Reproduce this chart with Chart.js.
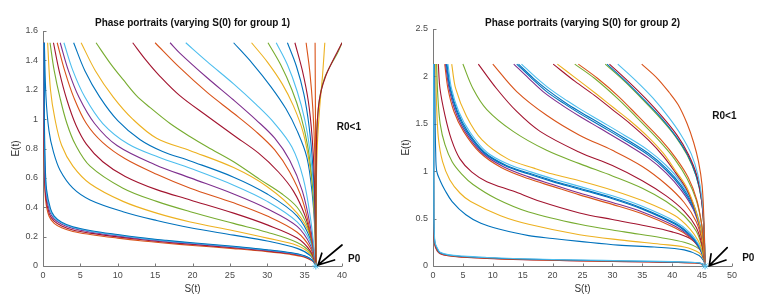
<!DOCTYPE html>
<html><head><meta charset="utf-8">
<script src="https://cdn.jsdelivr.net/npm/chart.js@4.4.0/dist/chart.umd.min.js"></script>
<style>
html,body{margin:0;padding:0;background:#fff;width:764px;height:300px;overflow:hidden}
canvas{position:absolute;top:0}
#c1{left:0}#c2{left:384px}
</style></head><body>
<canvas id="c1" width="384" height="300"></canvas>
<canvas id="c2" width="380" height="300"></canvas>
<script>
const COL = {b:'#0072BD', o:'#D95319', y:'#EDB120', p:'#7E2F8E', g:'#77AC30', c:'#4DBEEE', r:'#A2142F'};

// ---------- group 1 (left) ----------
const leftXTicks = [0,5,10,15,20,25,30,35,40];
const leftYTicks = [0,0.2,0.4,0.6,0.8,1,1.2,1.4,1.6];
const leftYLabels = ['0','0.2','0.4','0.6','0.8','1','1.2','1.4','1.6'];
const leftP0 = [36.5, 0];
const leftColors = ['o','r','p','c','b',
  'b','y','g','r','o','p','c','b','y','g','r','o','p','c','b','y','g','c','b','r','o','o','y','g','r'];
const leftCurves = [
 [[0.1,1.52],[0.12,1.0],[0.18,0.65],[0.35,0.45],[0.8,0.34],[1.5,0.29],[2.5,0.26],[4,0.235],[6.3,0.215],[10,0.19],[13,0.172],[16.5,0.155],[20,0.14],[25.5,0.118],[30,0.098],[33,0.08],[35,0.06],[36,0.035],[36.5,0.01]],
 [[0.1,1.52],[0.13,1.0],[0.2,0.66],[0.38,0.47],[0.85,0.355],[1.5,0.305],[2.5,0.272],[4,0.245],[6.3,0.224],[10,0.198],[13,0.18],[16.5,0.162],[20,0.147],[25.5,0.124],[30,0.103],[33,0.085],[35,0.064],[36,0.038],[36.5,0.01]],
 [[0.12,1.52],[0.15,1.0],[0.23,0.68],[0.42,0.49],[0.9,0.37],[1.5,0.32],[2.5,0.285],[4,0.256],[6.3,0.232],[10,0.205],[13,0.186],[16.5,0.167],[20,0.151],[25.5,0.128],[30,0.106],[33,0.088],[35,0.066],[36,0.04],[36.5,0.01]],
 [[0.14,1.52],[0.17,1.0],[0.26,0.7],[0.45,0.5],[0.95,0.38],[1.5,0.33],[2.5,0.292],[4,0.262],[6.3,0.237],[10,0.21],[13,0.19],[16.5,0.171],[20,0.155],[25.5,0.131],[30,0.109],[33,0.09],[35,0.068],[36,0.041],[36.5,0.01]],
 [[0.16,1.52],[0.19,1.0],[0.28,0.72],[0.48,0.52],[1.0,0.39],[1.5,0.34],[2.5,0.298],[4,0.267],[6.3,0.242],[10,0.214],[13,0.194],[16.5,0.175],[20,0.158],[25.5,0.134],[30,0.111],[33,0.092],[35,0.07],[36,0.042],[36.5,0.01]],
 [[0.18,1.52],[0.4,1.15],[0.8,0.92],[1.38,0.78],[2.3,0.65],[4,0.53],[6.3,0.45],[10.7,0.37],[15.2,0.31],[19.7,0.26],[25.5,0.21],[30,0.17],[34,0.12],[35.8,0.07],[36.5,0.01]],
 [[0.62,1.52],[1.0,1.2],[1.6,1.0],[2.5,0.82],[4,0.68],[6.3,0.56],[10.7,0.44],[15.2,0.36],[19.7,0.3],[25.5,0.24],[30,0.19],[34,0.14],[35.8,0.08],[36.5,0.01]],
 [[0.94,1.52],[1.5,1.33],[2.3,1.14],[3.2,0.97],[4.3,0.83],[6.3,0.68],[10.7,0.53],[15.2,0.44],[19.7,0.37],[25.5,0.29],[30,0.23],[34,0.16],[35.8,0.09],[36.5,0.01]],
 [[1.4,1.52],[2.2,1.32],[3.2,1.13],[4.4,0.96],[5.8,0.83],[8,0.71],[11,0.61],[15.2,0.52],[19.7,0.45],[25.5,0.36],[30,0.28],[34,0.19],[35.8,0.1],[36.5,0.01]],
 [[1.9,1.52],[2.9,1.33],[4.1,1.15],[5.8,0.97],[8,0.84],[11,0.73],[15.2,0.625],[19.7,0.53],[25.5,0.43],[30,0.34],[34,0.23],[35.8,0.12],[36.5,0.01]],
 [[2.3,1.52],[3.4,1.33],[4.8,1.15],[6.9,0.97],[9.9,0.82],[15,0.69],[19.7,0.6],[25.5,0.49],[30,0.39],[34,0.27],[35.8,0.14],[36.5,0.01]],
 [[2.8,1.52],[4.0,1.33],[5.6,1.15],[8,0.97],[11.4,0.83],[15.5,0.74],[19.7,0.665],[25.5,0.55],[30,0.44],[34,0.3],[35.8,0.16],[36.5,0.01]],
 [[4.1,1.52],[5.6,1.33],[7.6,1.15],[10,0.99],[13,0.86],[16,0.78],[19.7,0.715],[25.5,0.605],[30,0.49],[34,0.34],[35.8,0.18],[36.5,0.01]],
 [[5.1,1.52],[7,1.33],[9.4,1.15],[12,1.0],[15.2,0.87],[19.7,0.785],[25.5,0.67],[30,0.54],[34,0.36],[35.8,0.2],[36.5,0.01]],
 [[7.1,1.52],[9,1.38],[10.7,1.27],[12.5,1.16],[14.3,1.08],[17,0.97],[19.7,0.88],[22,0.81],[25.5,0.71],[29,0.59],[32,0.49],[34,0.4],[35.3,0.28],[36,0.15],[36.5,0.01]],
 [[12,1.52],[13.8,1.4],[15.5,1.3],[18.3,1.16],[22,1.02],[25.5,0.89],[28.8,0.77],[31.5,0.64],[33.5,0.51],[35,0.35],[36,0.17],[36.5,0.01]],
 [[15,1.52],[18.3,1.35],[22,1.18],[25.5,1.04],[28.5,0.915],[31,0.79],[33,0.64],[34.7,0.45],[35.8,0.22],[36.5,0.01]],
 [[17,1.52],[18.3,1.45],[22,1.28],[25.5,1.13],[28.5,0.995],[31,0.87],[33,0.72],[34.7,0.51],[35.8,0.26],[36.5,0.01]],
 [[19.1,1.52],[22,1.39],[25.5,1.24],[28.5,1.1],[31,0.97],[33.3,0.81],[34.8,0.6],[35.8,0.32],[36.5,0.01]],
 [[25.5,1.52],[28,1.38],[30.5,1.22],[32.5,1.07],[34,0.92],[35.3,0.74],[36,0.5],[36.4,0.22],[36.5,0.01]],
 [[27.9,1.52],[30,1.39],[32,1.24],[33.5,1.09],[34.8,0.91],[35.7,0.68],[36.2,0.45],[36.5,0.01]],
 [[30.1,1.52],[31.8,1.37],[33.3,1.2],[34.5,1.02],[35.4,0.82],[36,0.58],[36.4,0.28],[36.5,0.01]],
 [[31.2,1.52],[32.7,1.37],[34,1.19],[35,1.0],[35.7,0.79],[36.2,0.54],[36.45,0.25],[36.5,0.01]],
 [[32.7,1.52],[33.9,1.36],[34.9,1.17],[35.6,0.95],[36.1,0.68],[36.4,0.38],[36.5,0.01]],
 [[33.7,1.52],[34.7,1.33],[35.5,1.12],[36,0.88],[36.3,0.6],[36.5,0.01]],
 [[35.2,1.52],[35.7,1.32],[36.1,1.07],[36.35,0.78],[36.48,0.35],[36.5,0.01]],
 [[36.4,1.52],[36.45,1.0],[36.5,0.5],[36.5,0.01]],
 [[37.7,1.52],[37.4,1.3],[37.0,1.07],[36.7,0.82],[36.55,0.5],[36.5,0.01]],
 [[40,1.52],[39.4,1.45],[38.4,1.36],[37.6,1.27],[37.1,1.17],[36.8,1.06],[36.6,0.88],[36.52,0.5],[36.5,0.01]],
 [[40,1.52],[39.5,1.47],[38.6,1.38],[37.8,1.29],[37.2,1.19],[36.85,1.08],[36.62,0.9],[36.52,0.5],[36.5,0.01]]
];

// ---------- group 2 (right) ----------
const rightXTicks = [0,5,10,15,20,25,30,35,40,45,50];
const rightYTicks = [0,0.5,1,1.5,2,2.5];
const rightYLabels = ['0','0.5','1','1.5','2','2.5'];
const rightP0 = [45.5, 0];
const rightColors = ['r','o','b','c','b','y','g','r','o','p','b','b','c','y','g','r','o','p','b','b','c','r','y','g','o','g','b','r','c','o'];
const rightCurves = [
 [[0.08,2.13],[0.1,1.2],[0.12,0.6],[0.16,0.36],[0.3,0.22],[0.7,0.16],[1.2,0.13],[2.5,0.108],[5,0.093],[9,0.08],[13.4,0.07],[20,0.06],[24.6,0.054],[32,0.046],[40,0.038],[44.5,0.028],[45.5,0.01]],
 [[0.09,2.13],[0.11,1.2],[0.13,0.6],[0.17,0.37],[0.32,0.23],[0.75,0.165],[1.2,0.135],[2.5,0.112],[5,0.096],[9,0.083],[13.4,0.072],[20,0.062],[24.6,0.056],[32,0.048],[40,0.04],[44.5,0.03],[45.5,0.01]],
 [[0.1,2.13],[0.12,1.2],[0.14,0.6],[0.18,0.38],[0.34,0.24],[0.8,0.17],[1.2,0.14],[2.5,0.116],[5,0.1],[9,0.087],[13.4,0.076],[20,0.066],[24.6,0.06],[32,0.052],[40,0.043],[44.5,0.032],[45.5,0.01]],
 [[0.12,2.13],[0.14,1.2],[0.16,0.6],[0.2,0.39],[0.36,0.245],[0.85,0.175],[1.2,0.145],[2.5,0.12],[5,0.104],[9,0.09],[13.4,0.079],[20,0.069],[24.6,0.063],[32,0.055],[40,0.046],[44.5,0.034],[45.5,0.01]],
 [[0.3,2.13],[0.35,1.6],[0.45,1.2],[0.62,1.0],[1.2,0.9],[2.0,0.8],[3.2,0.68],[5.5,0.54],[8,0.45],[11,0.39],[16,0.32],[20,0.29],[24.5,0.26],[31,0.22],[37,0.2],[42,0.17],[44.5,0.11],[45.3,0.05],[45.5,0.01]],
 [[0.45,2.13],[0.6,1.7],[0.9,1.35],[1.6,1.1],[2.8,0.91],[4.5,0.77],[6.3,0.68],[11.3,0.53],[16,0.44],[24.5,0.33],[32,0.27],[38,0.23],[42,0.2],[44.5,0.14],[45.3,0.07],[45.5,0.01]],
 [[0.6,2.13],[0.8,1.8],[1.2,1.5],[2.0,1.28],[3.2,1.1],[4.8,0.97],[6.7,0.86],[10.6,0.71],[16,0.57],[24.5,0.44],[32,0.36],[38,0.3],[42,0.25],[44.5,0.18],[45.3,0.09],[45.5,0.01]],
 [[0.89,2.13],[1.17,1.87],[2.0,1.59],[3.1,1.33],[4.5,1.13],[6.5,0.99],[9,0.89],[13.4,0.79],[18,0.68],[24.5,0.56],[30,0.49],[35,0.43],[40,0.36],[43,0.29],[44.8,0.18],[45.4,0.08],[45.5,0.01]],
 [[1.96,2.13],[2.5,1.87],[3.5,1.63],[5.1,1.42],[7.8,1.2],[11.4,1.04],[16,0.92],[20,0.84],[24.5,0.75],[30,0.65],[35,0.55],[40.5,0.4],[43,0.3],[44.4,0.2],[45.1,0.11],[45.5,0.01]],
 [[2.1,2.13],[2.7,1.87],[3.75,1.63],[5.35,1.42],[8.1,1.2],[11.7,1.05],[16,0.94],[20,0.86],[24.5,0.77],[30,0.67],[35,0.57],[40.5,0.42],[43,0.31],[44.4,0.2],[45.1,0.11],[45.5,0.01]],
 [[2.23,2.13],[2.84,1.87],[3.96,1.63],[5.6,1.42],[8.4,1.2],[12,1.06],[16,0.97],[20,0.89],[24.5,0.81],[30,0.71],[35,0.6],[40.5,0.44],[43,0.32],[44.4,0.21],[45.1,0.12],[45.5,0.01]],
 [[2.35,2.13],[2.95,1.87],[4.1,1.63],[5.8,1.42],[8.6,1.2],[12.3,1.06],[16,0.98],[20,0.9],[24.5,0.82],[30,0.72],[35,0.61],[40.5,0.45],[43,0.33],[44.4,0.22],[45.1,0.12],[45.5,0.01]],
 [[2.5,2.13],[3.1,1.87],[4.3,1.63],[6.1,1.42],[9,1.2],[12.7,1.07],[16,1.0],[20,0.92],[24.5,0.84],[30,0.74],[35,0.63],[40.5,0.47],[43,0.35],[44.4,0.23],[45.1,0.13],[45.5,0.01]],
 [[3.13,2.13],[3.8,1.87],[5.6,1.58],[8.2,1.33],[12.5,1.13],[17,1.03],[20,0.97],[24.5,0.9],[30,0.8],[35,0.69],[40.5,0.53],[43,0.39],[44.4,0.26],[45.1,0.14],[45.5,0.01]],
 [[5,2.13],[6.7,1.87],[9,1.65],[13.4,1.42],[19,1.22],[24.5,1.08],[30,0.95],[35,0.82],[39,0.68],[42,0.53],[44,0.37],[45,0.2],[45.5,0.01]],
 [[7.58,2.13],[10.65,1.87],[14,1.63],[17.9,1.42],[24.5,1.2],[30,1.06],[35,0.9],[39,0.74],[42,0.58],[44,0.41],[45,0.22],[45.5,0.01]],
 [[10,2.13],[14,1.84],[19,1.59],[24.5,1.38],[30,1.22],[35,1.05],[39,0.86],[42,0.67],[44,0.47],[45,0.26],[45.5,0.01]],
 [[13.5,2.13],[16,1.98],[18.4,1.84],[21.5,1.7],[24.5,1.58],[28,1.45],[32,1.3],[36,1.14],[39,0.98],[41.5,0.8],[43.5,0.6],[44.7,0.38],[45.3,0.18],[45.5,0.01]],
 [[14,2.13],[16.5,1.98],[19,1.84],[22,1.71],[24.5,1.61],[28,1.48],[32,1.33],[36,1.17],[39,1.01],[41.5,0.83],[43.5,0.62],[44.7,0.4],[45.3,0.19],[45.5,0.01]],
 [[14.3,2.13],[16.8,1.98],[19.3,1.85],[22.2,1.72],[24.5,1.63],[28,1.5],[32,1.35],[36,1.19],[39,1.03],[41.5,0.85],[43.5,0.64],[44.7,0.41],[45.3,0.2],[45.5,0.01]],
 [[14.8,2.13],[17.2,1.99],[19.7,1.86],[22.5,1.74],[24.5,1.66],[28,1.53],[32,1.38],[36,1.22],[39,1.06],[41.5,0.88],[43.5,0.66],[44.7,0.43],[45.3,0.21],[45.5,0.01]],
 [[20.1,2.13],[23.7,1.95],[27,1.8],[30,1.65],[33,1.5],[36,1.33],[38.5,1.16],[40.5,0.99],[42.5,0.8],[44,0.56],[45,0.3],[45.5,0.01]],
 [[20.8,2.13],[23.7,1.99],[27,1.83],[30,1.68],[33,1.53],[36,1.36],[38.5,1.19],[40.5,1.01],[42.5,0.82],[44,0.57],[45,0.31],[45.5,0.01]],
 [[23.7,2.13],[27,1.98],[30.8,1.77],[34,1.57],[37.7,1.33],[40.5,1.12],[42.5,0.92],[44,0.7],[44.9,0.45],[45.3,0.22],[45.5,0.01]],
 [[24.3,2.13],[27.5,1.98],[31,1.79],[34.3,1.58],[38,1.34],[40.7,1.13],[42.7,0.93],[44.1,0.7],[44.9,0.45],[45.3,0.22],[45.5,0.01]],
 [[28.8,2.13],[32,1.95],[35,1.76],[38,1.56],[40.5,1.37],[42.5,1.17],[44,0.95],[44.9,0.7],[45.3,0.4],[45.5,0.01]],
 [[29.1,2.13],[32.2,1.95],[35.2,1.76],[38.2,1.56],[40.6,1.37],[42.6,1.17],[44,0.95],[44.9,0.7],[45.3,0.4],[45.5,0.01]],
 [[29.5,2.13],[32.6,1.95],[35.5,1.77],[38.4,1.57],[40.8,1.38],[42.7,1.18],[44.1,0.96],[44.9,0.7],[45.3,0.4],[45.5,0.01]],
 [[30.9,2.13],[34,1.95],[36.8,1.77],[39.4,1.57],[41.5,1.38],[43.2,1.18],[44.3,0.96],[45,0.7],[45.35,0.4],[45.5,0.01]],
 [[34.9,2.13],[37.5,1.98],[39.5,1.83],[41,1.7],[42.5,1.5],[43.6,1.3],[44.4,1.1],[45,0.85],[45.3,0.5],[45.5,0.01]]
];

const FONT = '"Liberation Sans", Arial, Helvetica, sans-serif';
Chart.defaults.font.family = FONT;

const matlabPlugin = {
  id: 'matlab',
  beforeDatasetsDraw(chart) {
    const {ctx, chartArea: a, scales: {x, y}} = chart;
    ctx.save();
    ctx.strokeStyle = '#7a7a7a';
    ctx.lineWidth = 1;
    ctx.beginPath();
    const L = Math.round(a.left) + 0.5, B = Math.round(a.bottom) + 0.5;
    ctx.moveTo(L, a.top); ctx.lineTo(L, B); ctx.lineTo(a.right, B);
    x.ticks.forEach(t => { const px = Math.round(x.getPixelForValue(t.value)) + 0.5; ctx.moveTo(px, B); ctx.lineTo(px, B - 3); });
    y.ticks.forEach(t => { const py = Math.round(y.getPixelForValue(t.value)) + 0.5; ctx.moveTo(L, py); ctx.lineTo(L + 3, py); });
    ctx.stroke();
    ctx.restore();
  },
  afterDraw(chart, args, o) {
    const {ctx, chartArea: a, scales: {x, y}} = chart;
    const P = p => [x.getPixelForValue(p[0]), y.getPixelForValue(p[1])];
    ctx.save();
    ctx.fillStyle = '#111';
    ctx.font = 'bold 10px ' + FONT;
    ctx.textAlign = 'center'; ctx.textBaseline = 'middle';
    ctx.fillText(o.title, (a.left + a.right) / 2, o.titleY);
    ctx.textAlign = 'left';
    let q = P(o.r0); ctx.fillText('R0<1', q[0], q[1]);
    q = P(o.p0); ctx.fillText('P0', q[0], q[1]);
    ctx.strokeStyle = '#000'; ctx.lineWidth = 1.7; ctx.lineCap = 'round';
    const tip = P(o.arrow[1]), tail = P(o.arrow[0]), h1 = P(o.arrow[2]), h2 = P(o.arrow[3]);
    ctx.beginPath();
    ctx.moveTo(tail[0], tail[1]); ctx.lineTo(tip[0], tip[1]);
    ctx.moveTo(h1[0], h1[1]); ctx.lineTo(tip[0], tip[1]); ctx.lineTo(h2[0], h2[1]);
    ctx.stroke();
    ctx.restore();
  }
};

function makeChart(id, curves, colors, p0, xMax, yMax, xTicks, yTicks, yLabels, yWidth, padRight, padTop, yTitlePad, ann) {
  const datasets = curves.map((pts, i) => ({
    data: pts.map(([s, e]) => ({x: s, y: e})),
    borderColor: COL[colors[i]], borderWidth: 1.1, order: -i,
    pointRadius: 0, showLine: true, tension: 0.35, fill: false
  }));
  datasets.push({
    data: [{x: p0[0], y: p0[1]}], pointStyle: 'star', pointRadius: 3.5, order: -1000,
    borderColor: COL.c, borderWidth: 1, showLine: false, clip: false
  });
  return new Chart(document.getElementById(id), {
    type: 'scatter',
    data: {datasets},
    options: {
      responsive: false, animation: false, devicePixelRatio: 1,
      layout: {padding: {left: 0, right: padRight, top: padTop, bottom: 0}},
      plugins: {legend: {display: false}, tooltip: {enabled: false}, matlab: ann},
      scales: {
        x: {
          type: 'linear', min: 0, max: xMax,
          afterBuildTicks: s => { s.ticks = xTicks.map(v => ({value: v})); },
          ticks: {color: '#4a4a4a', font: {size: 9}, padding: 4, maxRotation: 0, autoSkip: false,
                  callback: v => String(v)},
          grid: {display: false, drawTicks: false}, border: {display: false},
          title: {display: true, text: 'S(t)', color: '#333', font: {size: 10}, padding: {top: 0, bottom: 5}},
          afterFit: s => { s.height = 34; }
        },
        y: {
          type: 'linear', min: 0, max: yMax,
          afterBuildTicks: s => { s.ticks = yTicks.map(v => ({value: v})); },
          ticks: {color: '#4a4a4a', font: {size: 9}, padding: 5, autoSkip: false,
                  callback: (v, i) => yLabels[i]},
          grid: {display: false, drawTicks: false}, border: {display: false},
          title: {display: true, text: 'E(t)', color: '#333', font: {size: 10}, padding: {top: yTitlePad, bottom: 0}},
          afterFit: s => { s.width = yWidth; }
        }
      }
    },
    plugins: [matlabPlugin]
  });
}

makeChart('c1', leftCurves, leftColors, leftP0, 40, 1.6, leftXTicks, leftYTicks, leftYLabels, 43, 42, 31, 10, {
  title: 'Phase portraits (varying S(0) for group 1)', titleY: 23,
  r0: [39.3, 0.946], p0: [40.8, 0.048],
  arrow: [[40, 0.143], [36.8, 0.007], [37.3, 0.087], [39.0, 0.041]]
});
makeChart('c2', rightCurves, rightColors, rightP0, 50, 2.5, rightXTicks, rightYTicks, rightYLabels, 49, 32, 29, 16.7, {
  title: 'Phase portraits (varying S(0) for group 2)', titleY: 23,
  r0: [46.7, 1.58], p0: [51.7, 0.084],
  arrow: [[49.2, 0.193], [46.2, 0.003], [46.5, 0.127], [49.0, 0.063]]
});
</script>
</body></html>
